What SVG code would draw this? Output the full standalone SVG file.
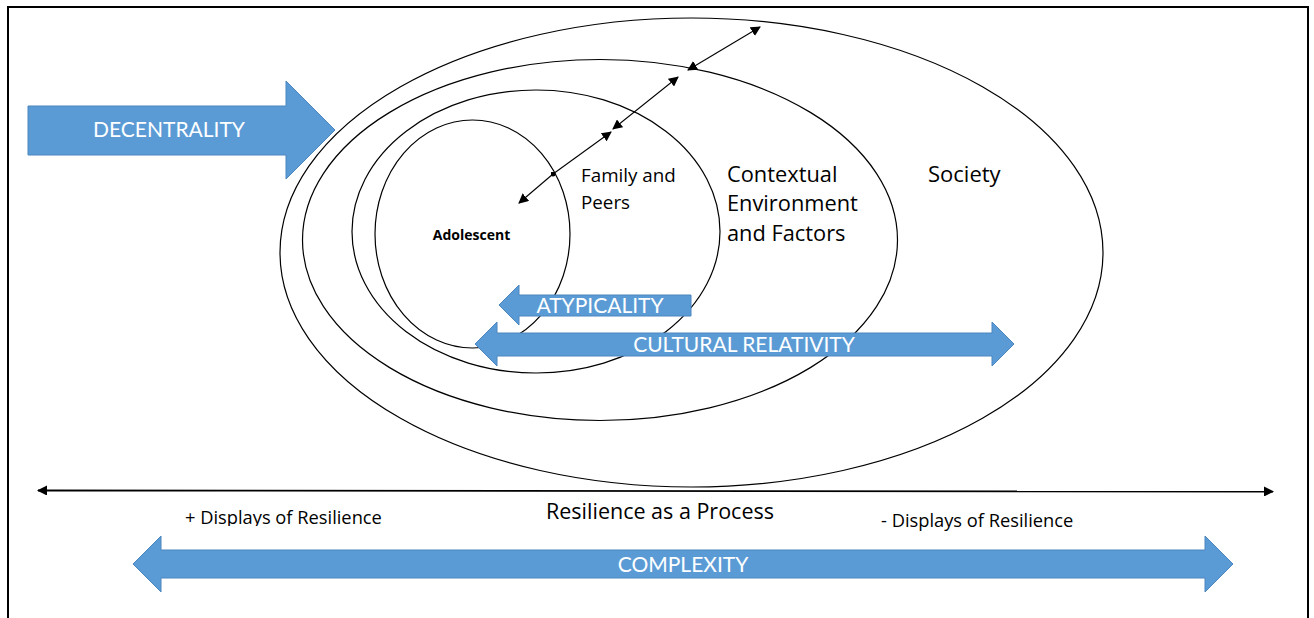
<svg xmlns="http://www.w3.org/2000/svg" width="1314" height="618" viewBox="0 0 1314 618">
  <style>
    .ring { fill: none; stroke: #000; stroke-width: 1.2; }
    .block { fill: #5B9BD5; stroke: #4A86BF; stroke-width: 1; }
    .blockText { font-family: Lato, "Open Sans", sans-serif; fill: #fff; font-size: 21px; text-anchor: middle; }
    .label { font-family: "Open Sans", Lato, sans-serif; fill: #000; }
    .link { stroke: #000; stroke-width: 1.1; fill: none; }
  </style>
  <defs>
    <marker id="tip" viewBox="0 0 10 10" refX="9" refY="5" markerWidth="10" markerHeight="10" markerUnits="userSpaceOnUse" orient="auto-start-reverse">
      <path d="M0,0 L10,5 L0,10 z" fill="#000"/>
    </marker>
    <marker id="dot" viewBox="0 0 6 6" refX="3" refY="3" markerWidth="5" markerHeight="5" markerUnits="userSpaceOnUse">
      <circle cx="3" cy="3" r="3" fill="#000"/>
    </marker>
    <!-- text box of the left caption is cut off just below its baseline -->
    <clipPath id="cutLeft">
      <rect x="150" y="500" width="280" height="26"/>
    </clipPath>
  </defs>

  <rect width="1314" height="618" fill="#fff"/>
  <!-- outer frame (open at the bottom edge) -->
  <path d="M8,640 V7 H1308 V640" fill="none" stroke="#000" stroke-width="2"/>

  <g id="society">
    <ellipse class="ring" cx="691.5" cy="252.5" rx="411.5" ry="234.5"/>
    <text class="label" x="928" y="182" font-size="22">Society</text>
  </g>
  <g id="contextual">
    <ellipse class="ring" cx="600" cy="240" rx="297.5" ry="180.5"/>
    <text class="label" font-size="21.8"><tspan x="727" y="182">Contextual</tspan><tspan x="727" y="211">Environment</tspan><tspan x="727" y="241">and Factors</tspan></text>
  </g>
  <g id="family">
    <ellipse class="ring" cx="536" cy="231.5" rx="184" ry="141.5"/>
    <text class="label" font-size="18.8"><tspan x="581" y="182">Family and</tspan><tspan x="581" y="209">Peers</tspan></text>
  </g>
  <g id="adolescent">
    <ellipse class="ring" cx="472.5" cy="234" rx="97.5" ry="114"/>
    <text class="label" x="471.5" y="240" font-size="14" font-weight="bold" text-anchor="middle">Adolescent</text>
  </g>

  <g id="connectors">
    <line class="link" x1="553" y1="174" x2="519" y2="203" marker-end="url(#tip)"/>
    <line class="link" x1="553" y1="174" x2="611" y2="132" marker-end="url(#tip)" marker-start="url(#dot)"/>
    <line class="link" x1="678" y1="77" x2="613" y2="129" marker-start="url(#tip)" marker-end="url(#tip)"/>
    <line class="link" x1="688" y1="70" x2="760" y2="27" marker-start="url(#tip)" marker-end="url(#tip)"/>
    <line x1="38" y1="490.5" x2="1273" y2="491.5" stroke="#000" stroke-width="1.8" marker-start="url(#tip)" marker-end="url(#tip)"/>
  </g>

  <g id="decentrality">
    <path class="block" d="M28,106 H286 V81 L335,130 L286,179 V155 H28 z"/>
    <text class="blockText" x="169" y="137">DECENTRALITY</text>
  </g>
  <g id="atypicality">
    <path class="block" d="M691,295 H519 V285 L499,305 L519,325 V316 H691 z"/>
    <text class="blockText" x="600" y="313">ATYPICALITY</text>
  </g>
  <g id="cultural-relativity">
    <path class="block" d="M475,344 L497,322 V333 H992 V322 L1014,344 L992,366 V356 H497 V366 z"/>
    <text class="blockText" x="744" y="351.5">CULTURAL RELATIVITY</text>
  </g>
  <g id="complexity">
    <path class="block" d="M133,564 L161,536 V550 H1205 V536 L1233,564 L1205,592 V578 H161 V592 z"/>
    <text class="blockText" x="683" y="572">COMPLEXITY</text>
  </g>

  <g id="process-labels">
    <text class="label" x="660" y="519" font-size="21.5" text-anchor="middle">Resilience as a Process</text>
    <text class="label" x="185" y="524" font-size="18.3" clip-path="url(#cutLeft)">+ Displays of Resilience</text>
    <text class="label" x="881" y="527" font-size="18.3">- Displays of Resilience</text>
  </g>
</svg>
